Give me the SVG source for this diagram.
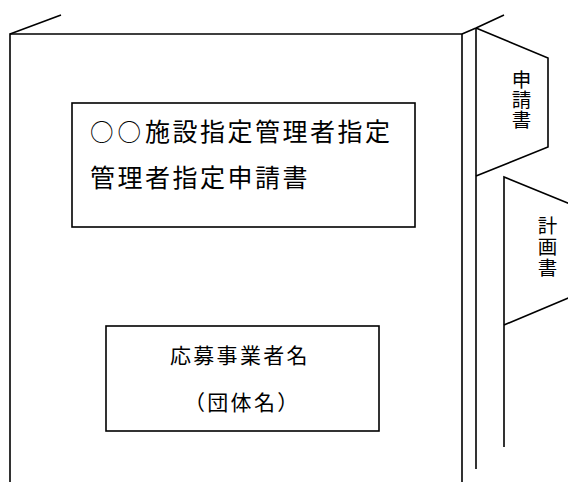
<svg xmlns="http://www.w3.org/2000/svg" width="568" height="482" viewBox="0 0 568 482">
<style>
.ln{fill:none;stroke:#000;stroke-width:1.6;stroke-linejoin:miter}
.t{font-family:"Noto Sans CJK JP","Noto Sans CJK SC",sans-serif;fill:#000}
.v{writing-mode:vertical-rl;font-size:19.5px}
</style>
<rect width="568" height="482" fill="#fff"/>
<g id="binder">
<polyline class="ln" points="10,482 10,34 462,34 462,482"/>
<line class="ln" x1="10" y1="34" x2="61" y2="15"/>
<polyline class="ln" points="462,34 476,28 504,15"/>
<line class="ln" x1="476" y1="28" x2="476" y2="469"/>
</g>
<g id="tab-shinsei">
<polyline class="ln" points="476,28 548,58 548,147 476,176"/>
<text class="t v" x="521.5" y="70" letter-spacing="0.5">申請書</text>
</g>
<g id="tab-keikaku">
<polyline class="ln" points="580,208 504,177 504,447"/>
<line class="ln" x1="504" y1="325" x2="580" y2="293"/>
<text class="t v" x="547.5" y="216" letter-spacing="1.5">計画書</text>
</g>
<g id="title-box">
<rect class="ln" x="72" y="103" width="343" height="124"/>
<text class="t" font-size="25" letter-spacing="2.5" x="90" y="141"><tspan font-size="23.5" letter-spacing="4">○○</tspan>施設指定管理者指定</text>
<text class="t" font-size="25" letter-spacing="2.5" x="90" y="187">管理者指定申請書</text>
</g>
<g id="applicant-box">
<rect class="ln" x="106" y="326" width="273" height="105"/>
<text class="t" font-size="21" letter-spacing="2.3" x="170" y="363">応募事業者名</text>
<text class="t" font-size="21" letter-spacing="2.3" x="184" y="410">（団体名）</text>
</g>
<g id="connectors"/>
</svg>
